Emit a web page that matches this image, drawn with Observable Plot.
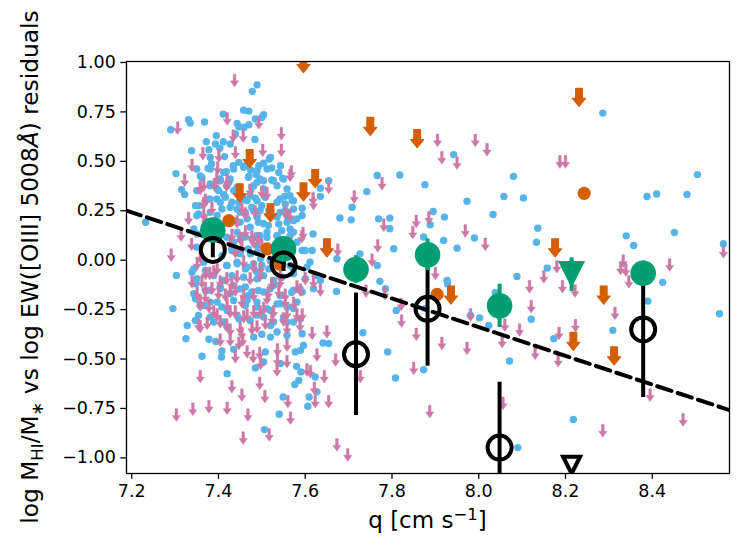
<!DOCTYPE html>
<html>
<head>
<meta charset="utf-8">
<script src="https://cdn.jsdelivr.net/npm/d3@7"></script>
<script src="https://cdn.jsdelivr.net/npm/@observablehq/plot@0.6"></script>
<style>
  html, body { margin: 0; padding: 0; background: #fff; }
  #chart svg { display: block; }
</style>
</head>
<body>
<div id="chart"></div>
<script>
// ---------------- data ----------------
const xTicks = [7.2, 7.4, 7.6, 7.8, 8.0, 8.2, 8.4];
const yTicks = [-1.0, -0.75, -0.5, -0.25, 0.0, 0.25, 0.5, 0.75, 1.0];
const xDomain = [7.188, 8.578];
const yDomain = [-1.079, 1.005];

// individual galaxies: detections (blue dots)
const bluePoints = [
[7.29,0.66],[7.331,0.71],[7.335,0.694],[7.368,0.699],[7.411,0.739],[7.489,0.887],[7.478,0.854],[7.458,0.759],[7.47,0.754],[7.504,0.736],[7.5,0.722],[7.485,0.714],[7.47,0.685],[7.443,0.692],[7.447,0.675],[7.459,0.673],[7.439,0.638],[7.484,0.611],[7.372,0.599],[7.395,0.63],[7.393,0.588],[7.411,0.599],[7.427,0.588],[7.338,0.554],[7.378,0.559],[7.403,0.566],[7.414,0.524],[7.381,0.52],[7.376,0.465],[7.384,0.487],[7.302,0.438],[7.358,0.426],[7.418,0.448],[7.434,0.478],[7.447,0.495],[7.462,0.478],[7.474,0.456],[7.487,0.433],[7.493,0.478],[7.504,0.49],[7.517,0.512],[7.523,0.466],[7.52,0.52],[7.543,0.478],[7.548,0.414],[7.47,0.423],[7.424,0.394],[7.404,0.411],[7.381,0.386],[7.315,0.357],[7.322,0.332],[7.397,0.36],[7.412,0.332],[7.443,0.369],[7.477,0.369],[7.489,0.394],[7.504,0.402],[7.523,0.406],[7.635,0.364],[7.635,0.323],[7.654,0.402],[7.553,0.323],[7.573,0.301],
[7.356,0.276],[7.38,0.31],[7.404,0.293],[7.427,0.268],[7.447,0.293],[7.466,0.302],[7.485,0.314],[7.5,0.276],[7.516,0.251],[7.535,0.293],[7.554,0.251],[7.57,0.302],[7.593,0.263],[7.481,0.251],[7.45,0.243],[7.232,0.192],[7.354,0.234],[7.375,0.196],[7.397,0.226],[7.435,0.2],[7.466,0.209],[7.489,0.218],[7.504,0.184],[7.535,0.218],[7.558,0.192],[7.573,0.2],[7.593,0.226],[7.351,0.133],[7.374,0.133],[7.443,0.142],[7.462,0.117],[7.489,0.125],[7.512,0.142],[7.535,0.125],[7.573,0.142],[7.618,0.133],[7.489,0.074],[7.581,0.091],[7.431,0.058],[7.45,0.041],[7.474,0.032],[7.497,0.007],[7.593,0.049],[7.616,0.049],[7.303,-0.077],[7.339,-0.06],[7.37,-0.052],[7.42,-0.027],[7.443,-0.018],[7.466,-0.035],[7.489,-0.06],[7.516,-0.044],[7.604,-0.035],[7.635,-0.102],[7.573,-0.044],[7.347,-0.119],[7.381,-0.152],[7.404,-0.144],[7.435,-0.128],[7.462,-0.136],[7.477,-0.161],[7.504,-0.161],[7.527,-0.128],[7.547,-0.177],[7.573,-0.152],[7.593,-0.161],[7.619,-0.144],[7.295,-0.245],[7.347,-0.195],[7.366,-0.229],[7.397,-0.212],[7.42,-0.254],[7.466,-0.203],[7.489,-0.237],[7.52,-0.254],[7.543,-0.22],[7.573,-0.245],[7.328,-0.33],[7.354,-0.279],[7.389,-0.313],[7.42,-0.338],[7.447,-0.296],[7.489,-0.279],[7.52,-0.33],[7.558,-0.313],[7.589,-0.296],
[7.35,0.461],[7.381,0.461],[7.412,0.444],[7.435,0.461],[7.458,0.47],[7.489,0.453],[7.512,0.461],[7.539,0.444],[7.55,0.411],[7.362,0.419],[7.404,0.402],[7.427,0.411],[7.469,0.419],[7.496,0.411],[7.527,0.402],[7.35,0.352],[7.381,0.377],[7.4,0.352],[7.419,0.377],[7.435,0.352],[7.481,0.377],[7.504,0.36],[7.535,0.377],[7.558,0.36],[7.565,0.326],[7.347,0.276],[7.37,0.301],[7.396,0.31],[7.416,0.318],[7.431,0.293],[7.458,0.31],[7.473,0.326],[7.489,0.301],[7.508,0.318],[7.542,0.31],[7.554,0.284],[7.573,0.259],[7.35,0.225],[7.381,0.242],[7.408,0.259],[7.443,0.259],[7.462,0.242],[7.477,0.268],[7.496,0.251],[7.489,0.225],[7.542,0.242],[7.558,0.225],[7.581,0.209],[7.343,0.158],[7.404,0.175],[7.45,0.192],[7.473,0.167],[7.492,0.192],[7.515,0.175],[7.539,0.183],[7.546,0.15],[7.565,0.158],[7.419,0.116],[7.435,0.091],[7.45,0.124],[7.477,0.108],[7.496,0.124],[7.512,0.116],[7.535,0.124],[7.565,0.124],[7.35,0.066],[7.408,0.023],[7.431,0.049],[7.45,0.032],[7.469,0.057],[7.489,0.04],[7.558,0.015],[7.6,0.049],[7.343,-0.044],[7.366,-0.01],[7.419,-0.027],[7.443,-0.01],[7.462,-0.044],[7.481,-0.019],[7.5,-0.027],[7.519,-0.002],[7.565,-0.027],[7.611,-0.01],[7.35,-0.094],[7.389,-0.078],[7.412,-0.103],[7.431,-0.078],[7.458,-0.086],[7.489,-0.094],[7.504,-0.078],[7.527,-0.103],[7.546,-0.086],[7.573,-0.069],[7.6,-0.094],[7.623,-0.078],[7.343,-0.17],[7.37,-0.153],[7.404,-0.136],[7.427,-0.17],[7.45,-0.145],[7.469,-0.179],[7.492,-0.153],[7.519,-0.145],[7.542,-0.179],[7.569,-0.162],[7.588,-0.145],[7.358,-0.229],[7.381,-0.212],[7.408,-0.237],[7.435,-0.204],[7.462,-0.229],[7.489,-0.212],[7.512,-0.246],[7.535,-0.221],[7.558,-0.237],[7.581,-0.212],[7.347,-0.305],[7.381,-0.288],[7.412,-0.313],[7.443,-0.28],[7.473,-0.305],[7.504,-0.288],[7.527,-0.313],[7.55,-0.288],[7.573,-0.313],
[7.325,-0.397],[7.378,-0.4],[7.394,-0.411],[7.362,-0.486],[7.408,-0.459],[7.407,-0.49],[7.435,-0.451],[7.481,-0.389],[7.5,-0.375],[7.52,-0.389],[7.535,-0.363],[7.558,-0.38],[7.593,-0.372],[7.641,-0.419],[7.654,-0.422],[7.596,-0.431],[7.577,-0.464],[7.589,-0.456],[7.508,-0.464],[7.504,-0.515],[7.485,-0.545],[7.42,-0.574],[7.543,-0.523],[7.58,-0.537],[7.59,-0.565],[7.623,-0.591],[7.585,-0.608],[7.576,-0.629],[7.627,-0.666],[7.549,-0.692],[7.609,-0.692],[7.606,-0.739],[7.54,-0.779],[7.506,-0.857],
[7.766,0.428],[7.818,0.431],[7.742,0.347],[7.876,0.382],[7.942,0.534],[8.08,0.424],[8.058,0.322],[8.103,0.315],[7.973,0.298],
[7.708,0.268],[7.68,0.214],[7.706,0.204],[7.769,0.209],[7.795,0.213],[7.795,0.159],[7.895,0.246],[7.921,0.218],[7.888,0.179],[7.873,0.117],[7.919,0.1],[7.95,0.061],[7.804,0.058],[7.726,0.032],[7.673,0.007],[7.766,-0.027],[8.033,0.231],[8.136,0.162],[8.133,0.091],[7.99,0.112],[8.088,-0.082],[7.927,-0.102],[7.928,-0.119],[7.772,-0.107],[7.785,-0.144],[7.672,-0.158],[7.81,-0.254],[7.877,-0.245],[7.981,-0.279],[8.002,-0.292],[8.023,-0.33],[8.038,-0.165],[8.121,-0.299],[7.733,-0.367],
[7.79,-0.464],[7.808,-0.596],[7.873,-0.554],[8.071,-0.51],[8.09,-0.948],
[8.286,0.744],[8.504,0.433],[8.388,0.322],[8.41,0.335],[8.48,0.332],
[8.34,0.123],[8.357,0.074],[8.451,0.14],[8.564,0.083],[8.158,-0.04],[8.424,-0.112],[8.39,-0.207],[8.555,-0.271],[8.309,-0.355],
[8.173,-0.397],[8.218,-0.806]
];

// individual galaxies: upper limits (pink arrows)
const pinkLimits = [
[7.437,0.941],[7.306,0.7],[7.42,0.747],[7.493,0.727],[7.545,0.672],[7.434,0.66],[7.457,0.66],[7.364,0.571],[7.401,0.559],[7.439,0.576],[7.502,0.588],[7.545,0.588],[7.339,0.512],[7.398,0.498],[7.568,0.478],[7.322,0.436],[7.366,0.411],[7.391,0.416],[7.42,0.433],[7.358,0.394],[7.512,0.369],[7.618,0.344],[7.654,0.4],
[7.366,0.319],[7.454,0.293],[7.485,0.276],[7.554,0.276],[7.619,0.319],[7.366,0.26],[7.331,0.243],[7.37,0.234],[7.404,0.192],[7.443,0.226],[7.462,0.175],[7.477,0.15],[7.595,0.167],[7.314,0.159],[7.338,0.112],[7.427,0.125],[7.454,0.1],[7.481,0.125],[7.5,0.108],[7.566,0.117],[7.439,0.074],[7.291,0.058],[7.351,0.015],[7.358,0.049],[7.458,0.024],[7.481,-0.001],[7.527,0.024],[7.339,-0.077],[7.362,-0.077],[7.38,-0.035],[7.397,-0.01],[7.404,-0.077],[7.431,-0.086],[7.497,-0.01],[7.523,-0.086],[7.543,-0.052],[7.589,-0.119],[7.635,-0.119],[7.351,-0.136],[7.37,-0.152],[7.385,-0.111],[7.416,-0.144],[7.439,-0.119],[7.454,-0.177],[7.481,-0.144],[7.512,-0.161],[7.539,-0.128],[7.554,-0.177],[7.358,-0.177],[7.378,-0.203],[7.397,-0.245],[7.42,-0.195],[7.439,-0.229],[7.458,-0.254],[7.481,-0.229],[7.504,-0.212],[7.527,-0.229],[7.558,-0.237],[7.593,-0.245],[7.573,-0.186],[7.358,-0.304],[7.374,-0.287],[7.404,-0.279],[7.427,-0.321],[7.454,-0.338],[7.477,-0.313],[7.508,-0.287],[7.55,-0.271],[7.616,-0.338],[7.65,-0.33],
[7.358,0.402],[7.37,0.335],[7.396,0.444],[7.419,0.411],[7.473,0.385],[7.5,0.377],[7.565,0.461],[7.565,0.259],[7.592,0.15],[7.462,0.268],[7.431,0.158],[7.45,0.141],[7.492,0.141],[7.385,0.293],[7.37,-0.035],[7.389,-0.027],[7.419,-0.061],[7.443,-0.052],[7.473,-0.061],[7.496,-0.044],[7.542,-0.078],[7.581,-0.103],[7.6,-0.061],[7.619,-0.078],[7.37,-0.111],[7.4,-0.136],[7.427,-0.12],[7.458,-0.145],[7.515,-0.136],[7.554,-0.145],[7.358,-0.195],[7.389,-0.229],[7.427,-0.229],[7.466,-0.246],[7.496,-0.229],[7.523,-0.263],[7.55,-0.263],[7.581,-0.246],[7.354,-0.296],[7.419,-0.296],[7.45,-0.313],[7.489,-0.305],[7.558,-0.313],[7.588,-0.296],
[7.404,-0.372],[7.427,-0.372],[7.447,-0.389],[7.456,-0.372],[7.466,-0.431],[7.48,-0.456],[7.495,-0.439],[7.497,-0.49],[7.439,-0.456],[7.536,-0.422],[7.558,-0.397],[7.536,-0.473],[7.558,-0.481],[7.535,-0.523],[7.604,-0.523],[7.612,-0.532],[7.627,-0.448],[7.644,-0.557],[7.358,-0.557],[7.495,-0.591],[7.431,-0.608],[7.454,-0.65],[7.507,-0.658],[7.56,-0.683],[7.621,-0.616],[7.623,-0.683],[7.654,-0.683],[7.303,-0.751],[7.341,-0.722],[7.378,-0.709],[7.42,-0.717],[7.468,-0.751],[7.566,-0.767],[7.457,-0.868],[7.517,-0.852],
[7.777,0.419],[7.713,0.352],[7.905,0.638],[7.915,0.55],[7.95,0.523],[7.992,0.638],[8.019,0.591],
[7.675,0.083],[7.781,0.209],[7.856,0.229],[7.885,0.246],[7.848,0.172],[7.767,0.105],[7.754,0.032],[7.9,-0.035],[7.969,0.18],[8.015,0.112],[7.821,-0.192],[7.822,-0.276],[7.74,-0.124],[7.783,-0.136],[8.117,-0.102],[8.121,-0.203],[8.06,-0.296],[8.094,-0.321],[7.981,-0.245],[7.856,-0.343],
[7.67,-0.473],[7.727,-0.557],[7.915,-0.389],[7.973,-0.414],[7.85,-0.515],[7.887,-0.734],[8.054,-0.38],[8.13,-0.439],[8.056,-0.692],[7.673,-0.902],[7.698,-0.953],
[8.187,0.529],[8.2,0.529],
[8.18,-0.001],[8.15,-0.052],[8.193,-0.102],[8.222,-0.124],[8.333,0.027],[8.327,-0.01],[8.339,-0.018],[8.346,-0.077],[8.44,0.007],[8.564,0.074],[8.314,-0.237],[8.223,-0.299],[8.185,-0.338],
[8.183,-0.476],[8.395,-0.65],[8.471,-0.776],[8.286,-0.831]
];

// second sample: upper limits (orange arrows) and detections (orange circles)
const orangeLimits = [
[7.596,1.04],[7.472,0.559],[7.623,0.458],[7.596,0.391],[7.449,0.386],[7.52,0.285],[7.65,0.108],[7.75,0.722],[7.858,0.66],[7.936,-0.131],[8.231,0.869],[8.176,0.108],[8.288,-0.131],[8.218,-0.365],[8.312,-0.439]
];
const orangePoints = [
[7.424,0.2],[7.512,0.057],[7.541,-0.02],[7.904,-0.173],[8.243,0.338]
];

// binned values
const binQ        = [7.387, 7.55, 7.717, 7.882, 8.048, 8.214, 8.379];
const greenV      = [0.153, 0.057, -0.047, 0.027, -0.231, -0.073, -0.066];
const greenErr    = [0.03, 0.03, 0.07, 0.08, 0.11, 0.085, 0.03];
const greenLimit  = [false, false, false, false, false, true, false];
const blackV      = [0.052, -0.022, -0.476, -0.246, -0.948, -1.037, -0.35];
const blackErr    = [0.04, 0.035, 0.31, 0.29, 0.33, 0, 0.345];
const blackLimit  = [false, false, false, false, false, true, false];

// linear fit (dashed)
const fitIntercept = 5.469;
const fitSlope = -0.726;
const fitQ = [7.188, 8.578];

// ---------------- styling ----------------
const BLUE = "#56B4E9", PINK = "#CC79A7", ORANGE = "#D55E00", GREEN = "#009E73";

function arrowSymbol(stemW, headW, headH) {
  return {
    draw(ctx, size) {
      const r = Math.sqrt(size / Math.PI);
      const L = 2 * r, sw = stemW * r / 2, hw = headW * r / 2, hh = headH * r;
      ctx.moveTo(-sw, 0);
      ctx.lineTo(sw, 0);
      ctx.lineTo(sw, L - hh);
      ctx.lineTo(hw, L - hh);
      ctx.lineTo(0, L);
      ctx.lineTo(-hw, L - hh);
      ctx.lineTo(-sw, L - hh);
      ctx.closePath();
    }
  };
}
const triDown = {
  draw(ctx, size) {
    const r = Math.sqrt(size / Math.PI);
    ctx.moveTo(-r, -r);
    ctx.lineTo(r, -r);
    ctx.lineTo(0, r);
    ctx.closePath();
  }
};
const pinkArrow = arrowSymbol(0.42, 1.3, 0.95);
const orangeArrow = arrowSymbol(0.75, 1.45, 0.9);

const bins = binQ.map((q, i) => ({
  q, g: greenV[i], ge: greenErr[i], gl: greenLimit[i],
  b: blackV[i], be: blackErr[i], bl: blackLimit[i]
}));

const W = 747, H = 560;
const mL = 126, mR = 18, mT = 61, mB = 87;

const plot = Plot.plot({
  width: W,
  height: H,
  marginLeft: mL,
  marginRight: mR,
  marginTop: mT,
  marginBottom: mB,
  style: { fontFamily: "DejaVu Sans", color: "black", background: "white", overflow: "visible" },
  x: { domain: xDomain, label: null },
  y: { domain: yDomain, label: null },
  marks: [
    Plot.dot(bluePoints, { x: d => d[0], y: d => d[1], r: 3.7, fill: BLUE, stroke: "none", clip: true }),
    Plot.dot(pinkLimits, { x: d => d[0], y: d => d[1], r: 6.4, symbol: pinkArrow, fill: PINK, stroke: PINK, strokeWidth: 0.4, clip: true }),
    Plot.dot(orangeLimits, { x: d => d[0], y: d => d[1], r: 9, symbol: orangeArrow, fill: ORANGE, stroke: ORANGE, strokeWidth: 1.2, strokeLinejoin: "round", clip: true }),
    Plot.dot(orangePoints, { x: d => d[0], y: d => d[1], r: 6.6, fill: ORANGE, stroke: "none", clip: true }),
    Plot.line(fitQ, { x: q => q, y: q => fitIntercept + fitSlope * q, stroke: "black", strokeWidth: 4, strokeDasharray: "15,6.5", clip: true }),
    Plot.ruleX(bins.filter(d => !d.bl), { x: "q", y1: d => d.b - d.be, y2: d => d.b + d.be, stroke: "black", strokeWidth: 4, clip: true }),
    Plot.ruleX(bins, { x: "q", y1: d => d.g - d.ge, y2: d => d.g + d.ge, stroke: GREEN, strokeWidth: 4, clip: true }),
    Plot.dot(bins.filter(d => !d.gl), { x: "q", y: "g", r: 12.8, fill: GREEN, stroke: "none", clip: true }),
    Plot.dot(bins.filter(d => d.gl), { x: "q", y: "g", r: 13.5, symbol: triDown, fill: GREEN, stroke: "none", clip: true }),
    Plot.dot(bins.filter(d => !d.bl), { x: "q", y: "b", r: 12, fill: "none", stroke: "black", strokeWidth: 4, clip: true }),
    Plot.dot(bins.filter(d => d.bl), { x: "q", y: "b", r: 8.5, symbol: triDown, fill: "none", stroke: "black", strokeWidth: 4, strokeLinejoin: "miter", clip: true }),
    Plot.axisX({ ticks: xTicks, tickFormat: d3.format(".1f"), tickSize: 5.7, tickPadding: 5, fontSize: 17.5, label: null, strokeWidth: 1.3 }),
    Plot.axisY({ ticks: yTicks, tickFormat: d3.format(".2f"), tickSize: 5.7, tickPadding: 5, fontSize: 17.5, label: null, strokeWidth: 1.3 }),
    Plot.frame({ stroke: "black", strokeWidth: 1.3 })
  ]
});

document.getElementById("chart").appendChild(plot);

// axis titles with sub/superscripts
const svg = d3.select(plot);
const cy = mT + (H - mT - mB) / 2;
const cx = mL + (W - mL - mR) / 2;

const yl = svg.append("text")
  .attr("transform", `translate(38,${cy}) rotate(-90)`)
  .attr("text-anchor", "middle")
  .style("font-family", "DejaVu Sans")
  .style("font-size", "23.3px")
  .style("white-space", "pre")
  .attr("fill", "black");
yl.append("tspan").text("log M");
yl.append("tspan").attr("dy", 4.5).style("font-size", "16.5px").text("HI");
yl.append("tspan").attr("dy", -4.5).text("/M");
yl.append("tspan").attr("dy", 4.5).style("font-size", "16.5px").text("∗");
yl.append("tspan").attr("dy", -4.5).text(" vs log EW([OIII] 5008");
yl.append("tspan").style("font-style", "italic").text("Å");
yl.append("tspan").text(") residuals");

const xl = svg.append("text")
  .attr("x", cx)
  .attr("y", 528)
  .attr("text-anchor", "middle")
  .style("font-family", "DejaVu Sans")
  .style("font-size", "23px")
  .style("white-space", "pre")
  .attr("fill", "black");
xl.append("tspan").text("q [cm s");
xl.append("tspan").attr("dy", -8).style("font-size", "16.5px").text("−1");
xl.append("tspan").attr("dy", 8).text("]");
</script>
</body>
</html>
